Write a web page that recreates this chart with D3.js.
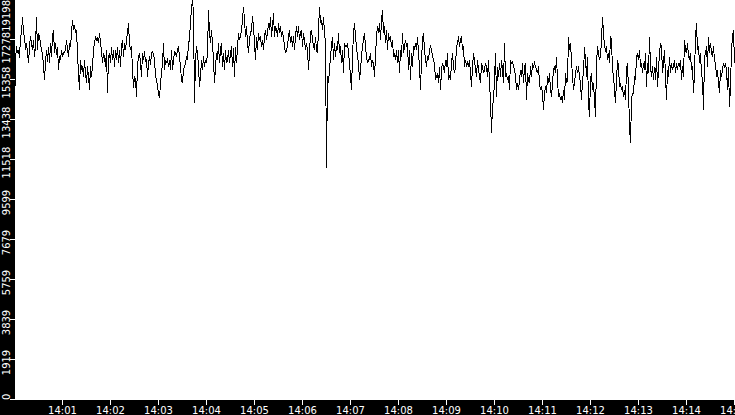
<!DOCTYPE html>
<html>
<head>
<meta charset="utf-8">
<script src="https://cdn.jsdelivr.net/npm/d3@7"></script>
<style>
  html, body { margin: 0; padding: 0; background: #fff; }
  svg { display: block; }
  .axis text { fill: #fff; font-family: "DejaVu Sans", sans-serif; font-size: 10px; }
  .axis line { stroke: #fff; }
</style>
</head>
<body>
<div id="chart"></div>
<script>
// sampled every 1.25 s from 14:00:00 to 14:15:00
const startTime = new Date(2020, 0, 1, 14, 0, 0);
const endTime = new Date(2020, 0, 1, 14, 15, 0);
const sampleMs = 1250;

const values = [
  13740,16300,16940,16620,16780,16380,17420,17580,18380,17580,
  17420,16780,17100,16620,16140,16940,17420,17100,16780,17260,
  16460,16940,18380,16780,17580,17420,17100,16780,16620,15980,
  15340,16140,16780,16220,16940,16140,17100,16460,17420,17740,
  16620,17100,16540,16940,15820,16460,16300,16780,16460,16620,
  16700,16780,17260,16780,16460,17100,16940,17580,18220,17740,
  17980,17580,17740,16620,15660,14860,16300,15820,15980,15500,
  16300,15660,15180,15980,15500,14860,15980,15500,15980,16780,
  17100,17420,17260,17340,17100,17580,17100,16780,16140,16620,
  16460,15980,16780,14700,16460,16620,16140,16940,16300,16780,
  15980,16780,16300,16940,16140,16780,15980,16940,17260,16460,
  17100,16780,17260,17580,18060,17100,16780,16940,15820,14940,
  15500,
  15340,14540,15980,16460,16620,16140,15500,16620,16300,16700,
  16220,16300,15500,16140,16460,16060,16620,16700,16540,16380,
  15500,15340,15020,14700,14460,15180,15660,16140,17100,15820,
  16300,16140,16380,15980,16300,15820,16780,15820,16300,16700,
  16620,16460,16780,16940,16460,15980,15340,15180,15820,15980,
  16140,16460,16300,17100,17260,18220,18700,19198,18540,14220,
  16300,16940,16620,15980,15020,15500,16300,15820,16460,15980,
  16300,16140,16620,18700,17580,17100,17740,17100,16300,15180,
  15980,16620,16300,17100,16140,16780,17100,15980,16620,15820,
  16780,16140,16300,16780,16140,16620,16940,15980,16860,15500,
  16940,16140,16940,17580,17260,17420,17740,18220,18860,18220,
  17420,17900,17100,16620,17260,17580,17740,18380,17900,17100,
  16300,
  17420,16780,17580,17260,17420,16940,17260,16780,17420,17740,
  17260,17580,18060,17740,18380,17420,17900,18540,17420,17900,
  17740,17420,18060,17580,17900,17420,17580,17420,16940,16620,
  16780,16940,17420,17740,17100,17420,16940,17420,16780,17420,
  17900,17420,17900,17260,17580,17740,16940,17580,17260,16780,
  17100,16780,15820,16620,17580,17740,17260,16940,16780,17420,
  16780,16620,17740,18860,18060,18220,17740,18380,17580,17100,
  11100,15500,15180,15820,16460,16940,17420,16300,17100,16460,
  16940,16780,17580,16620,16940,16140,16780,15660,17100,16940,
  16940,17100,16620,16140,15500,14860,16460,17580,18060,17420,
  16940,16460,16140,15340,15820,16460,16940,17260,17580,16940,
  16460,16140,16300,16300,16620,15980,16300,16140,15500,16460,
  17420,17900,17580,18060,17260,18220,18700,17580,17900,17100,
  17740,16780,17580,17260,17420,16940,17260,16460,16620,16300,
  16780,16140,16780,15660,16780,16460,17580,16620,16940,17260,
  16940,17100,15820,16780,15340,16620,15980,16940,16780,17100,
  16780,17420,16620,15980,14860,16300,17260,17580,16780,16300,
  15980,16460,16300,16780,16940,16780,16460,16300,16140,15340,
  15500,15660,15180,15980,14860,15820,16140,15980,15660,16300,
  15980,16620,15340,15500,15340,16140,16620,15980,15660,15980,
  16940,17100,17420,16940,17260,17420,16780,16940,15980,16300,
  15980,16140,15980,16300,15660,15020,15980,16620,16300,15820,
  15500,16300,15820,15500,15180,16140,15980,15660,15820,16140,
  15980,15500,16300,15180,14380,12780,14060,14380,15340,16620,
  14540,15980,15500,16140,15500,16300,15820,15180,17100,15500,
  15660,15340,15500,14860,16300,16140,16220,15980,15820,15500,
  14860,15180,14860,15340,15820,15500,16140,15180,15980,16140,
  14380,15660,15340,15180,15980,15500,16140,15980,16140,15980,
  15820,15660,15980,15180,14860,15020,14700,13900,14700,15020,
  14700,15500,15180,15660,14860,14540,15180,15820,15980,15660,
  16460,15340,14540,14700,14380,14540,14220,14860,14380,15660,
  15180,15340,17420,16780,17100,16300,15500,14860,15180,15660,
  15980,15660,15980,15500,15180,14380,15340,15660,16940,16300,
  15500,16460,14220,13580,15340,15660,14860,15180,14380,13580,
  16140,16940,16620,16300,16460,17260,18380,17580,16940,16780,
  16940,16300,16620,16140,17420,17260,15820,15500,14860,14220,
  15340,16300,15980,15020,15180,14860,15020,14540,14860,14380,
  15820,16140,14860,13100,12300,14380,14700,14700,15500,15340,
  16460,16620,16300,16780,15980,16140,15660,16140,15820,16620,
  15020,16140,15660,17420,15980,15500,15980,15340,15980,15340,
  16460,15020,15820,16620,17100,16940,15660,16140,16780,15500,
  14380,15820,15500,16460,15660,16140,15820,15980,16300,15660,
  16140,15820,16140,15980,16300,15340,15980,15500,17260,16780,
  16620,17100,16460,16300,16620,15820,15980,14700,15660,17420,
  18060,16780,16940,16140,16620,15660,15340,13900,16460,16620,
  16940,15980,17420,16620,17100,16620,16460,16940,16300,16140,
  15500,15820,15180,14700,15820,15500,15820,16140,15980,16140,
  15820,14860,15980,14060,15020,16780,17420,17740,16140
];

const yTicks = [0, 1919, 3839, 5759, 7679, 9599, 11518, 13438, 15358, 17278, 19198];

const width = 735, height = 415;
const left = 15, bottom = 400;

const data = values.map((v, i) => ({ t: new Date(+startTime + i * sampleMs), v }));

const svg = d3.select("#chart").append("svg")
  .attr("width", width)
  .attr("height", height);

const x = d3.scaleTime()
  .domain([startTime, endTime])
  .range([left - 0.5, width - 0.5]);

const y = d3.scaleLinear()
  .domain([0, d3.max(yTicks)])
  .range([bottom - 0.5, -0.5]);

// black axis strips
svg.append("rect").attr("x", 0).attr("y", 0).attr("width", left).attr("height", height).attr("fill", "#000");
svg.append("rect").attr("x", 0).attr("y", bottom).attr("width", width).attr("height", height - bottom).attr("fill", "#000");

const line = d3.line()
  .x(d => x(d.t))
  .y(d => y(d.v));

svg.append("path")
  .datum(data)
  .attr("fill", "none")
  .attr("stroke", "#000")
  .attr("stroke-width", 1)
  .attr("shape-rendering", "crispEdges")
  .attr("d", line);

// x axis, one tick a minute, first one left out
const xTicks = d3.timeMinute.every(1).range(startTime, new Date(+endTime + 1)).slice(1);

const xAxis = svg.append("g")
  .attr("class", "axis")
  .attr("transform", `translate(0,${bottom})`)
  .call(d3.axisBottom(x).tickValues(xTicks).tickSize(5).tickPadding(2)
    .tickFormat(d3.timeFormat("%H:%M")).offset(0));
xAxis.select(".domain").remove();

// y axis with rotated labels, a little below their tick, kept inside and not overlapping
const yAxis = svg.append("g")
  .attr("class", "axis")
  .attr("transform", `translate(${left},0)`)
  .call(d3.axisLeft(y).tickValues(yTicks).tickSize(5).tickFormat(d3.format("d")).offset(0));
yAxis.select(".domain").remove();

const labels = yAxis.selectAll(".tick text")
  .attr("text-anchor", "middle")
  .attr("dy", null)
  .attr("y", -5.5)
  .attr("transform", "rotate(-90)")
  .nodes()
  .map(n => ({ node: n, ty: y(d3.select(n).datum()) }))
  .sort((a, b) => a.ty - b.ty);

let prevEnd = 0;
labels.forEach(l => {
  const w = l.node.getComputedTextLength();
  let c = Math.min(l.ty + 3, bottom - w / 2);
  if (c - w / 2 < prevEnd) c = prevEnd + w / 2;
  prevEnd = c + w / 2;
  d3.select(l.node).attr("x", l.ty - c);
});
</script>
</body>
</html>
